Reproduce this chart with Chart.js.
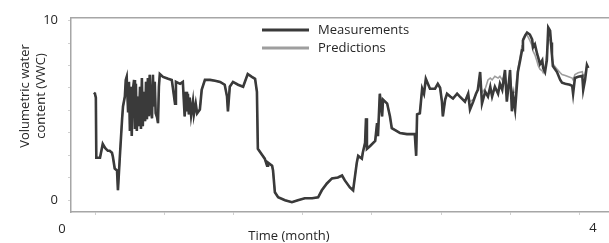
<!DOCTYPE html>
<html lang="en">
<head>
  <meta charset="UTF-8" />
  <title>VWC measurements vs predictions</title>
  <script src="https://cdn.jsdelivr.net/npm/chart.js"></script>
  <style>
    body { margin: 0; background: #ffffff; }
    .wrap { position: relative; width: 609px; height: 243px; }
  </style>
</head>
<body>
  <div class="wrap"><canvas id="vwcChart"></canvas></div>

  <script>
    // time in days
    const times = [
      14.6, 14.8, 15.0, 15.1, 15.9, 16.5, 17.0, 17.6, 18.0, 18.5, 18.7, 19.1, 19.6, 19.8, 20.2, 20.7, 20.9, 21.3,
      21.5, 21.7, 22.0, 22.2, 22.4, 22.6, 22.8, 23.0, 23.3, 23.5, 23.7, 23.9, 24.1, 24.3, 24.6, 24.8, 25.0, 25.2, 25.4, 25.7,
      25.9, 26.1, 26.3, 26.5, 26.7, 27.0, 27.2, 27.4, 27.6, 27.8, 28.0, 28.3, 28.5, 28.7, 28.9,
      29.6, 30.7, 31.5, 32.2, 32.4, 33.3, 33.9, 34.3, 34.6, 34.8, 35.0, 35.2, 35.4, 35.7, 36.1, 36.3, 36.7, 37.0, 37.6,
      38.0, 38.7, 39.8, 40.9, 42.0, 43.0, 43.5, 43.7, 44.1, 44.8, 45.9, 47.0, 48.0, 48.9, 49.6, 50.0,
      50.2, 51.1, 51.7, 52.2, 52.4, 53.3, 53.5, 53.9, 54.6, 56.1, 57.6, 58.9, 60.4, 62.0, 63.3, 64.1, 65.2, 66.3, 67.6, 68.5,
      69.1, 70.2, 70.9,
      71.7, 72.0, 72.8, 73.0, 73.5, 73.7, 73.9, 74.6, 75.7, 76.1, 76.3, 76.7, 77.2, 77.4, 78.3, 78.9, 79.3, 80.4, 81.1, 82.6,
      83.9, 84.3, 84.6, 84.8, 85.4, 85.9, 86.3, 86.7, 87.6, 88.7, 89.3, 89.8,
      90.2, 90.4, 90.9, 91.3, 92.0, 92.6, 93.5, 94.1, 95.2, 95.9,
      96.3, 97.0, 97.6, 98.0, 98.5, 98.9, 99.6, 100.2, 100.7, 101.1, 101.7, 102.4, 102.8, 103.3, 103.9, 104.3, 104.8, 105.0,
      105.4, 105.7, 106.1, 106.5, 106.7, 107.2, 107.6, 107.8, 108.3, 108.7, 109.3, 109.8, 110.0, 110.4, 110.9, 111.1, 111.5,
      112.0, 112.2, 112.6, 113.0, 113.3, 113.7, 113.9, 114.1, 114.3, 115.2, 115.9, 116.3, 117.0, 118.0, 118.5, 118.7, 119.1,
      119.8, 120.7, 120.9, 121.3, 121.7, 122.0
    ];

    const measured = [
      5.99, 5.93, 5.71, 2.36, 2.36, 3.13, 2.91, 2.75, 2.75, 2.64, 2.42, 1.76, 1.65, 0.55, 2.36, 4.51, 5.22, 5.77,
      6.70, 6.87, 4.95, 6.59, 3.85, 6.32, 3.57, 6.04, 6.70, 3.96, 6.48, 3.85, 5.77, 4.12, 6.32, 3.96, 6.81, 4.12, 6.04, 4.40,
      6.59, 4.51, 6.81, 4.67, 6.98, 4.95, 4.56, 6.98, 5.22, 6.59, 4.84, 4.62, 4.29, 6.32, 7.03,
      6.87, 6.76, 6.70, 5.38, 6.59, 6.48, 6.59, 4.67, 6.04, 4.95, 5.93, 4.78, 5.71, 4.73, 5.49, 4.78, 5.38, 4.84, 5.05,
      6.15, 6.70, 6.70, 6.65, 6.59, 6.43, 5.77, 4.95, 6.32, 6.59, 6.43, 6.32, 7.03, 6.87, 6.76, 6.04,
      2.86, 2.53, 2.31, 1.92, 2.09, 1.92, 1.65, 0.44, 0.16, 0.00, -0.11, 0.00, 0.11, 0.11, 0.16, 0.55, 0.93, 1.21, 1.26, 1.37,
      1.10, 0.71, 0.55,
      2.09, 2.47, 2.31, 2.64, 3.19, 4.56, 2.86, 3.02, 3.30, 4.29, 3.57, 5.93, 4.67, 5.60, 5.38, 4.67, 4.01, 3.85, 3.74, 3.68,
      3.68, 3.68, 2.47, 4.78, 4.84, 6.21, 5.93, 6.76, 6.21, 6.21, 6.48, 6.26,
      5.49, 4.67, 5.60, 5.93, 5.77, 5.66, 5.93, 5.77, 5.49, 5.93,
      5.05, 5.49, 5.93, 6.15, 7.14, 5.38, 6.04, 5.77, 6.32, 5.77, 6.32, 5.93, 6.48, 6.15, 7.25, 5.49, 6.70, 7.25,
      4.95, 5.77, 5.05, 6.43, 7.14, 7.80, 8.35, 8.90, 9.18, 9.34, 9.23, 8.96, 8.52, 8.68, 8.13, 7.97, 7.58,
      7.80, 7.36, 7.14, 7.80, 9.62, 9.45, 8.79, 8.13, 7.47, 7.14, 6.70, 6.54, 6.48, 6.43, 6.37, 5.93, 6.81,
      6.87, 6.92, 6.15, 6.70, 7.53, 7.36
    ];

    const predicted = [
      5.99, 5.93, 5.71, 2.36, 2.36, 3.13, 2.91, 2.75, 2.75, 2.64, 2.42, 1.76, 1.65, 0.55, 2.36, 4.51, 5.22, 5.77,
      6.70, 6.87, 4.95, 6.59, 3.85, 6.32, 3.57, 6.04, 6.70, 3.96, 6.48, 3.85, 5.77, 4.12, 6.32, 3.96, 6.81, 4.12, 6.04, 4.40,
      6.59, 4.51, 6.81, 4.67, 6.98, 4.95, 4.56, 6.98, 5.22, 6.59, 4.84, 4.62, 4.29, 6.32, 7.03,
      6.87, 6.76, 6.70, 5.38, 6.59, 6.48, 6.59, 4.67, 6.04, 4.95, 5.93, 4.78, 5.71, 4.73, 5.49, 4.78, 5.38, 4.84, 5.05,
      6.15, 6.70, 6.70, 6.65, 6.59, 6.43, 5.77, 4.95, 6.32, 6.59, 6.43, 6.32, 7.03, 6.87, 6.76, 6.04,
      2.86, 2.53, 2.31, 1.92, 2.09, 1.92, 1.65, 0.44, 0.16, 0.00, -0.11, 0.00, 0.11, 0.11, 0.16, 0.55, 0.93, 1.21, 1.26, 1.37,
      1.10, 0.71, 0.55,
      2.09, 2.47, 2.31, 2.64, 3.19, 4.56, 2.86, 3.02, 3.30, 4.29, 3.57, 5.93, 4.67, 5.60, 5.38, 4.67, 4.01, 3.85, 3.74, 3.68,
      3.68, 3.68, 2.47, 4.78, 4.84, 6.21, 5.93, 6.76, 6.21, 6.21, 6.48, 6.26,
      5.49, 4.67, 5.60, 5.93, 5.77, 5.66, 5.93, 5.77, 5.49, 5.93,
      5.50, 5.60, 5.90, 6.15, 6.60, 6.00, 6.20, 6.70, 6.80, 6.70, 6.90, 6.80, 6.90, 6.70, 7.00, 6.20, 6.60, 7.00,
      5.80, 6.00, 6.00, 6.90, 7.30, 8.00, 8.60, 9.00, 9.20, 9.20, 8.90, 8.60, 8.30, 8.10, 7.70, 7.50, 7.30,
      7.20, 7.10, 7.30, 8.20, 9.00, 8.90, 8.50, 8.00, 7.60, 7.30, 7.10, 7.00, 6.95, 6.85, 6.80, 6.70, 7.00,
      7.10, 7.15, 6.90, 7.00, 7.50, 7.40
    ];

    const xTicks = [15, 30, 45, 60, 75, 90, 105, 120];
    const yTicks = [0, 1.25, 2.5, 3.75, 5, 6.25, 7.5, 8.75, 10];
    const yLabels = { 0: '0', 10: '10' };

    const FONT = "'Open Sans', sans-serif";
    const TEXT = '#262626';

    // extra text: corner labels, titles and the stacked legend
    const annotate = {
      id: 'annotate',
      afterDraw(chart) {
        const ctx = chart.ctx;
        const area = chart.chartArea;
        ctx.save();

        // top frame line
        ctx.strokeStyle = '#a6a6a6';
        ctx.lineWidth = 1.5;
        ctx.beginPath();
        ctx.moveTo(area.left, area.top);
        ctx.lineTo(area.right, area.top);
        ctx.stroke();

        ctx.fillStyle = TEXT;
        ctx.font = '13px ' + FONT;
        ctx.textAlign = 'center';
        ctx.textBaseline = 'middle';
        ctx.fillText('0', 62, 229);
        ctx.fillText('4', 593, 228);
        ctx.fillText('Time (month)', 289, 236);

        ctx.save();
        ctx.translate(25, 96);
        ctx.rotate(-Math.PI / 2);
        ctx.fillText('Volumetric water', 0, 0);
        ctx.fillText('content (VWC)', 0, 16);
        ctx.restore();

        // legend
        const ds = chart.data.datasets;
        ds.forEach((d, i) => {
          const y = 30 + i * 18;
          ctx.strokeStyle = d.borderColor;
          ctx.lineWidth = 3;
          ctx.beginPath();
          ctx.moveTo(262, y);
          ctx.lineTo(309, y);
          ctx.stroke();
          ctx.fillStyle = TEXT;
          ctx.textAlign = 'left';
          ctx.fillText(d.label, 318, y);
        });
        ctx.restore();
      }
    };

    const ctx = document.getElementById('vwcChart').getContext('2d');
    new Chart(ctx, {
      type: 'line',
      data: {
        datasets: [
          {
            label: 'Measurements',
            data: times.map((t, i) => ({ x: t, y: measured[i] })),
            borderColor: '#3a3a3a',
            borderWidth: 2.6,
            pointRadius: 0,
            tension: 0
          },
          {
            label: 'Predictions',
            data: times.map((t, i) => ({ x: t, y: predicted[i] })),
            borderColor: '#9e9e9e',
            borderWidth: 1.6,
            pointRadius: 0,
            tension: 0
          }
        ]
      },
      options: {
        responsive: true,
        maintainAspectRatio: false,
        animation: false,
        layout: { padding: { top: 15, right: 0, bottom: 0, left: 0 } },
        plugins: {
          legend: { display: false },
          tooltip: { enabled: false }
        },
        scales: {
          x: {
            type: 'linear',
            min: 9.6,
            max: 126.5,
            afterBuildTicks: s => { s.ticks = xTicks.map(v => ({ value: v })); },
            afterFit: s => { s.height = 31; },
            ticks: { display: false },
            grid: { drawOnChartArea: false, drawTicks: true, tickLength: 3, color: '#d0d0d0' },
            border: { color: '#a6a6a6', width: 1.5 }
          },
          y: {
            min: -0.66,
            max: 10.16,
            afterBuildTicks: s => { s.ticks = yTicks.map(v => ({ value: v })); },
            afterFit: s => { s.width = 71; },
            ticks: {
              padding: 10,
              color: TEXT,
              font: { family: FONT, size: 13 },
              callback: v => yLabels[v] || ''
            },
            grid: { drawOnChartArea: false, drawTicks: true, tickLength: 3, color: '#d0d0d0' },
            border: { color: '#a6a6a6', width: 1.5 }
          }
        }
      },
      plugins: [annotate]
    });
  </script>
</body>
</html>
